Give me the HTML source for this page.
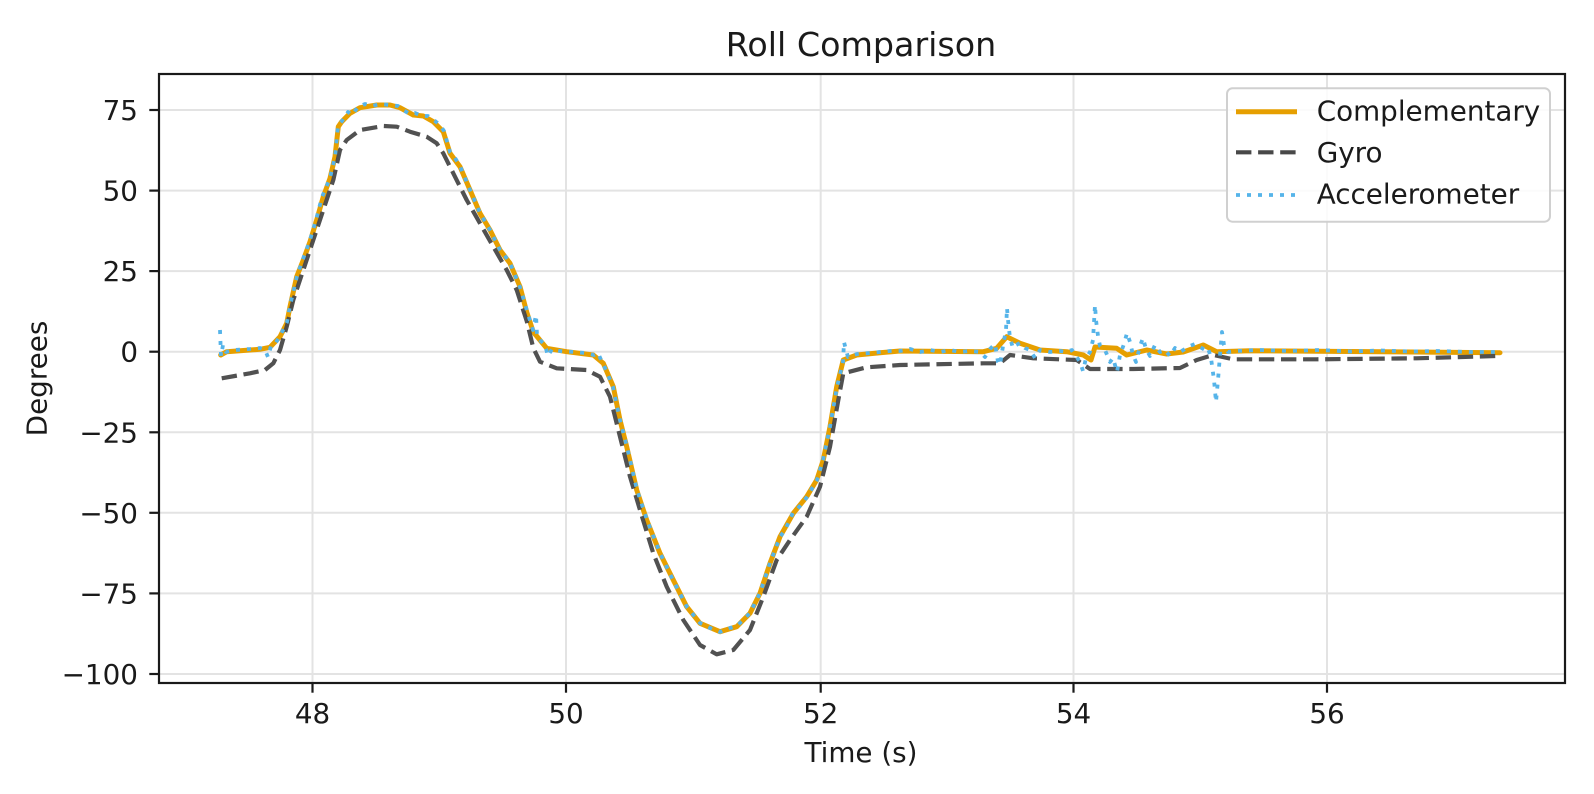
<!DOCTYPE html>
<html>
<head>
<meta charset="utf-8">
<style>
  html,body{margin:0;padding:0;background:#fff;}
  svg{display:block;}
  text{font-family:"DejaVu Sans","Liberation Sans",sans-serif;fill:#1a1a1a;}
</style>
</head>
<body>
<svg width="1594" height="794" viewBox="0 0 1594 794" xmlns="http://www.w3.org/2000/svg">
  <rect x="0" y="0" width="1594" height="794" fill="#ffffff"/>

  <!-- grid -->
  <g stroke="#e3e3e3" stroke-width="2" fill="none">
    <line x1="159" y1="110" x2="1565" y2="110"/>
    <line x1="159" y1="190.6" x2="1565" y2="190.6"/>
    <line x1="159" y1="271.1" x2="1565" y2="271.1"/>
    <line x1="159" y1="351.7" x2="1565" y2="351.7"/>
    <line x1="159" y1="432.3" x2="1565" y2="432.3"/>
    <line x1="159" y1="512.8" x2="1565" y2="512.8"/>
    <line x1="159" y1="593.4" x2="1565" y2="593.4"/>
    <line x1="159" y1="674" x2="1565" y2="674"/>
    <line x1="312.5" y1="74" x2="312.5" y2="683"/>
    <line x1="566" y1="74" x2="566" y2="683"/>
    <line x1="820.7" y1="74" x2="820.7" y2="683"/>
    <line x1="1073.5" y1="74" x2="1073.5" y2="683"/>
    <line x1="1327" y1="74" x2="1327" y2="683"/>
  </g>

  <!-- Complementary -->
  <polyline fill="none" stroke="#E69F00" stroke-width="5" stroke-linejoin="round" stroke-linecap="round"
    points="220.7,355 226.7,351.7 260,349.3 270,347.3 280,336.7 286.7,323.3 290,306.7 296.7,276.7 303.3,260 310,241.7 316.7,220 323.3,196.7 330,178.3 335,156.7 338.3,126.7 341.7,121.7 350,113.3 360,107.7 376.7,105 390,105 400,107.7 413.3,115 423.3,116 433.3,121.7 443.3,131.7 450,153.3 460,166.7 470,190 480,213.3 490,230 500,250 510,263.3 520,286.7 526.7,312 533.3,332 546.7,348.3 566.7,351.7 593.3,355 603.3,363.3 613.3,386.7 620,420 626.7,446.7 636.7,490 646.7,520 660,553.3 673.3,580 686.7,606.7 700,623.3 720,631.7 736.7,626.7 750,613.3 760,593.3 770,563.3 780,536.7 793.3,513.3 806.7,496.7 816.7,480 823.3,460 830,426.7 836.7,386.7 843.3,360 856.7,355 880,352.7 900,351 983.3,351.7 996.7,348.3 1006.7,336.7 1020,343.3 1040,350 1066.7,351.7 1083.3,355 1091,360 1095,347 1116.7,348.3 1126.7,355 1146.7,350 1166.7,354 1183.3,352 1203.3,345 1216.7,351.7 1250,350.7 1500,352.7"/>

  <!-- Gyro -->
  <polyline fill="none" stroke="#484848" stroke-opacity="0.95" stroke-width="4.2" stroke-dasharray="15.4 6.7" stroke-linejoin="round"
    points="221.7,378.3 250,373.3 265,370 273.3,363.3 280,350 286.7,326.7 293.3,300 303.3,270 313.3,240 323.3,210 333.3,180 340,150 346.7,140 360,130 383.3,126 396.7,126.7 410,131.7 426.7,136.7 436.7,143.3 443.3,153.3 453.3,173.3 466.7,200 480,223.3 493.3,246.7 506.7,270 516.7,290 526.7,321 533.3,348 540,361.7 556.7,368.3 586.7,370 600,376.7 610,396.7 620,436.7 630,476.7 640,510 653.3,553.3 666.7,586.7 683.3,620 700,645 716.7,654.3 733.3,650 750,630 763.3,596.7 776.7,560 790,540 806.7,516.7 820,486.7 830,446.7 838.3,400 843.3,373.3 866.7,367.3 900,365 983.3,363.3 1000,363.3 1010,355 1033.3,358.3 1076.7,360 1090,369 1133.3,369 1180,368 1196.7,360 1213.3,355 1233.3,359.3 1316.7,359.3 1416.7,358.3 1496.7,356"/>

  <!-- Accelerometer -->
  <polyline fill="none" stroke="#56B4E9" stroke-width="3.8" stroke-dasharray="4 7" stroke-linejoin="round"
    points="220,330 221,356 223,345 226,352 235,350 250,349 260,348 265,350 268,357 271,346 275,344 280,336 287,322 290,306 297,276 303,259 310,240 316,220 322,197 330,178 335,157 338,126 342,121 348,112 352,115 358,107 365,104 372,106 380,104 390,105 398,106 403,110 410,114 415,113 422,116 428,116 435,121 440,125 444,131 450,152 455,158 460,166 470,190 480,213 490,230 500,250 505,256 510,263 520,287 527,311 533,330 536,315 537,335 540,340 545,345 548,356 552,349 560,351 575,352 585,353 594,355 598,353 602,362 606,370 613,387 620,420 627,447 637,490 647,520 660,553 673,580 687,607 700,623 710,628 720,632 730,628 737,626 750,613 760,593 770,563 780,537 785,530 793,513 800,506 807,497 817,480 823,460 830,427 837,387 843,362 844,342 846,350 848,357 857,354 870,353 880,352 890,351 900,351 910,349 920,352 930,350 940,352 950,350 960,352 970,351 980,352 985,357 990,349 995,344 998,362 1000,365 1003,346 1006,330 1007,308 1008,320 1010,338 1013,348 1016,345 1020,343 1025,348 1030,350 1035,358 1040,350 1050,352 1060,351 1066,352 1072,350 1076,356 1080,362 1083,371 1086,358 1090,352 1093,340 1095,305 1096,320 1098,336 1100,346 1105,350 1110,362 1113,358 1117,372 1120,355 1124,344 1127,333 1130,342 1133,355 1136,362 1140,346 1143,338 1146,349 1150,356 1155,345 1160,352 1165,350 1170,356 1175,348 1180,352 1185,349 1190,346 1195,344 1200,347 1205,350 1208,348 1211,358 1214,380 1216,402 1218,380 1220,355 1222,332 1224,345 1228,352 1235,351 1260,350 1290,351 1320,350 1350,351.5 1380,350.5 1410,351.5 1440,351 1470,352 1500,352"/>

  <!-- spines -->
  <rect x="159" y="74" width="1406" height="609" fill="none" stroke="#1a1a1a" stroke-width="2.2"/>

  <!-- y ticks -->
  <g stroke="#1a1a1a" stroke-width="2.2">
    <line x1="149.3" y1="110" x2="159" y2="110"/>
    <line x1="149.3" y1="190.6" x2="159" y2="190.6"/>
    <line x1="149.3" y1="271.1" x2="159" y2="271.1"/>
    <line x1="149.3" y1="351.7" x2="159" y2="351.7"/>
    <line x1="149.3" y1="432.3" x2="159" y2="432.3"/>
    <line x1="149.3" y1="512.8" x2="159" y2="512.8"/>
    <line x1="149.3" y1="593.4" x2="159" y2="593.4"/>
    <line x1="149.3" y1="674" x2="159" y2="674"/>
    <line x1="312.5" y1="683" x2="312.5" y2="692.7"/>
    <line x1="566" y1="683" x2="566" y2="692.7"/>
    <line x1="820.7" y1="683" x2="820.7" y2="692.7"/>
    <line x1="1073.5" y1="683" x2="1073.5" y2="692.7"/>
    <line x1="1327" y1="683" x2="1327" y2="692.7"/>
  </g>

  <g font-size="27.8" text-anchor="end">
    <text x="138" y="120">75</text>
    <text x="138" y="200.6">50</text>
    <text x="138" y="281.1">25</text>
    <text x="138" y="361.7">0</text>
    <text x="138" y="442.3">−25</text>
    <text x="138" y="522.8">−50</text>
    <text x="138" y="603.4">−75</text>
    <text x="138" y="684">−100</text>
  </g>
  <g font-size="27.8" text-anchor="middle">
    <text x="312.5" y="723">48</text>
    <text x="566" y="723">50</text>
    <text x="820.7" y="723">52</text>
    <text x="1073.5" y="723">54</text>
    <text x="1327" y="723">56</text>
  </g>

  <text x="861" y="762" font-size="27.8" text-anchor="middle">Time (s)</text>
  <text x="0" y="0" font-size="27.8" text-anchor="middle" transform="translate(46.5,378.5) rotate(-90)">Degrees</text>
  <text x="861" y="56" font-size="33.3" text-anchor="middle">Roll Comparison</text>

  <!-- legend -->
  <rect x="1227" y="88.3" width="323" height="133.4" rx="5.5" ry="5.5" fill="#ffffff" fill-opacity="0.85" stroke="#d0d0d0" stroke-width="2"/>
  <line x1="1236" y1="111.7" x2="1297" y2="111.7" stroke="#E69F00" stroke-width="5"/>
  <line x1="1236" y1="152.3" x2="1297" y2="152.3" stroke="#484848" stroke-width="4.2" stroke-dasharray="15.4 6.7"/>
  <line x1="1236" y1="195" x2="1297" y2="195" stroke="#56B4E9" stroke-width="3.8" stroke-dasharray="4 7"/>
  <g font-size="27.8">
    <text x="1316.7" y="120.5">Complementary</text>
    <text x="1316.7" y="162">Gyro</text>
    <text x="1316.7" y="203.5">Accelerometer</text>
  </g>
</svg>
</body>
</html>
